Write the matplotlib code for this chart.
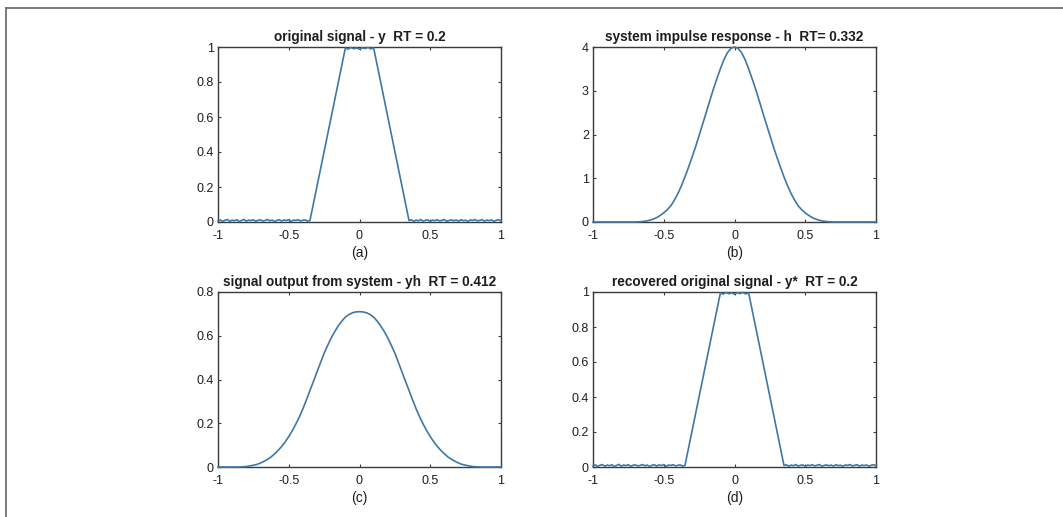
import numpy as np
import matplotlib
matplotlib.use("Agg")
import matplotlib.pyplot as plt
from matplotlib.lines import Line2D

plt.rcParams['font.family'] = ['Liberation Sans', 'DejaVu Sans']

# trapezoid signal (a) / (d): ramps between these corners
# small ripple on the flat parts (read by eye)
flat_left_y = [0.006, 0.012, 0.003, 0.010, 0.014, 0.004, 0.011, 0.007, 0.013, 0.002,
               0.009, 0.015, 0.005, 0.011, 0.008, 0.013, 0.004, 0.010, 0.012, 0.006,
               0.009, 0.014, 0.007, 0.011, 0.003, 0.010, 0.013, 0.005, 0.012, 0.008,
               0.014, 0.004, 0.011, 0.009, 0.013, 0.006, 0.010, 0.012, 0.005, 0.009]
flat_right_y = [0.008, 0.013, 0.004, 0.011, 0.007, 0.014, 0.005, 0.010, 0.012, 0.003,
                0.011, 0.008, 0.013, 0.006, 0.010, 0.014, 0.004, 0.009, 0.012, 0.007,
                0.011, 0.005, 0.013, 0.008, 0.010, 0.004, 0.012, 0.009, 0.014, 0.006,
                0.010, 0.013, 0.005, 0.011, 0.008, 0.012, 0.004, 0.010, 0.013, 0.007]
top_y = [0.994, 0.988, 0.997, 0.990, 0.995, 0.987, 0.996, 0.991, 0.998, 0.989, 0.995]

# impulse response h (b), right half (mirrored for the left half)
h_x = [0.0, 0.025, 0.05, 0.075, 0.10, 0.125, 0.15, 0.175, 0.20, 0.225, 0.25,
       0.275, 0.30, 0.325, 0.35, 0.375, 0.40, 0.425, 0.45, 0.475, 0.50,
       0.525, 0.55, 0.575, 0.60, 0.625, 0.65, 0.675, 0.70, 0.80, 0.90, 1.0]
h_y = [4.0, 3.97, 3.87, 3.71, 3.5, 3.27, 3.03, 2.77, 2.5, 2.24, 1.98,
       1.72, 1.48, 1.25, 1.03, 0.83, 0.65, 0.50, 0.37, 0.28, 0.21,
       0.15, 0.10, 0.065, 0.04, 0.022, 0.011, 0.004, 0.0, 0.0, 0.0, 0.0]

# system output yh (c), right half
yh_x = [0.0, 0.025, 0.05, 0.075, 0.10, 0.125, 0.15, 0.175, 0.20, 0.225, 0.25,
        0.275, 0.30, 0.325, 0.35, 0.375, 0.40, 0.425, 0.45, 0.475, 0.50,
        0.525, 0.55, 0.575, 0.60, 0.625, 0.65, 0.675, 0.70, 0.725, 0.75,
        0.80, 0.85, 0.90, 1.0]
yh_y = [0.71, 0.709, 0.705, 0.697, 0.685, 0.667, 0.645, 0.619, 0.59, 0.556, 0.52,
        0.478, 0.435, 0.392, 0.35, 0.307, 0.266, 0.229, 0.196, 0.166, 0.139,
        0.115, 0.094, 0.076, 0.06, 0.046, 0.035, 0.026, 0.018, 0.012, 0.008,
        0.002, 0.0, 0.0, 0.0]

titles = ['original signal - y  RT = 0.2',
          'system impulse response - h  RT= 0.332',
          'signal output from system - yh  RT = 0.412',
          'recovered original signal - y*  RT = 0.2']
sublabels = ['(a)', '(b)', '(c)', '(d)']
xticks = [-1, -0.5, 0, 0.5, 1]
xticklabels = ['-1', '-0.5', '0', '0.5', '1']
yticks_list = [[0, 0.2, 0.4, 0.6, 0.8, 1],
               [0, 1, 2, 3, 4],
               [0, 0.2, 0.4, 0.6, 0.8],
               [0, 0.2, 0.4, 0.6, 0.8, 1]]
yticklabels_list = [['0', '0.2', '0.4', '0.6', '0.8', '1'],
                    ['0', '1', '2', '3', '4'],
                    ['0', '0.2', '0.4', '0.6', '0.8'],
                    ['0', '0.2', '0.4', '0.6', '0.8', '1']]
ylims = [(0, 1), (0, 4), (0, 0.8), (0, 1)]

LINE = '#3f78a6'
AXC = '#3a3a3a'
TXT = '#1e1e1e'


def trapezoid():
    xl = np.linspace(-1, -0.35, len(flat_left_y))
    xr = np.linspace(0.35, 1, len(flat_right_y))
    xt = np.linspace(-0.1, 0.1, len(top_y))
    x = np.concatenate([xl, xt, xr])
    y = np.concatenate([flat_left_y, top_y, flat_right_y])
    return x, y


def symmetric(hx, hy):
    hx = np.array(hx)
    hy = np.array(hy)
    x = np.concatenate([-hx[::-1], hx[1:]])
    y = np.concatenate([hy[::-1], hy[1:]])
    return x, y


fig = plt.figure(figsize=(10.63, 5.17), dpi=100)

W = 283 / 1063
H = 175 / 517
lefts = [218 / 1063, 593 / 1063, 218 / 1063, 593 / 1063]
bottoms = [1 - 222 / 517, 1 - 222 / 517, 1 - 467 / 517, 1 - 467 / 517]

tx, ty = trapezoid()
curves = [(tx, ty), symmetric(h_x, h_y), symmetric(yh_x, yh_y), (tx, ty)]

for i in range(4):
    ax = fig.add_axes([lefts[i], bottoms[i], W, H])
    x, y = curves[i]
    ax.plot(x, y, color=LINE, lw=1.2, clip_on=False, zorder=3)
    ax.set_xlim(-1, 1)
    ax.set_ylim(*ylims[i])
    ax.set_xticks(xticks)
    ax.set_xticklabels(xticklabels)
    ax.set_yticks(yticks_list[i])
    ax.set_yticklabels(yticklabels_list[i])
    ax.tick_params(direction='in', length=2.5, width=0.8, color=AXC,
                   top=True, right=True, labelsize=9, labelcolor=TXT)
    ax.tick_params(axis='x', pad=6)
    ax.tick_params(axis='y', pad=3)
    for s in ax.spines.values():
        s.set_color(AXC)
        s.set_linewidth(1.0)
    ax.set_title(titles[i], fontsize=9.8, fontweight='bold', color=TXT, pad=4)
    ax.set_xlabel(sublabels[i], fontsize=10, color=TXT, labelpad=3)

# page frame lines (left and top)
fig.add_artist(Line2D([5.5 / 1063, 5.5 / 1063], [0, 1 - 7.5 / 517],
                      transform=fig.transFigure, color='#707070', lw=1.3))
fig.add_artist(Line2D([5.5 / 1063, 1], [1 - 7.5 / 517, 1 - 7.5 / 517],
                      transform=fig.transFigure, color='#707070', lw=1.3))

fig.savefig('out.png', dpi=100)
